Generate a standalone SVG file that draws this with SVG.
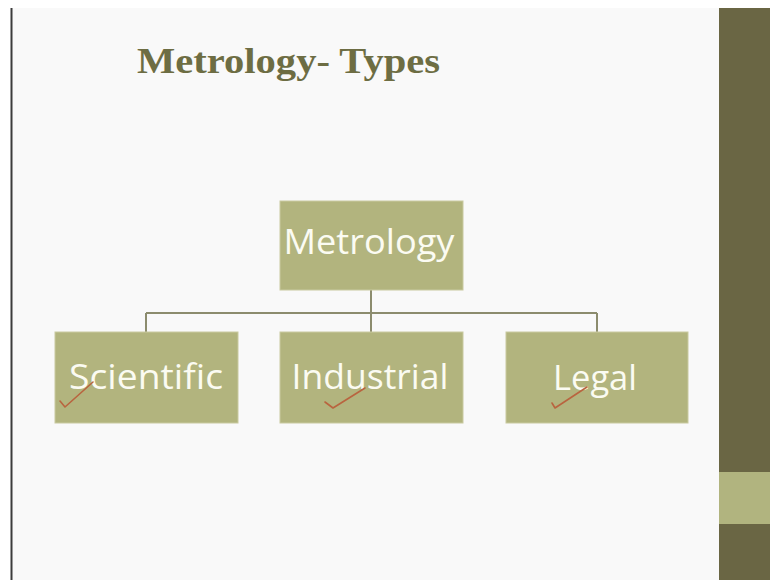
<svg xmlns="http://www.w3.org/2000/svg" width="770" height="580" viewBox="0 0 770 580">
<style>
.box{fill:#b2b47e;stroke:#c9caa0;stroke-width:1}
.lbl{font-family:"Open Sans","Liberation Sans",sans-serif;font-size:35px;fill:#fbfbf2;text-anchor:middle}
.conn{fill:none;stroke:#8c8c6e;stroke-width:2}
.chk{fill:none;stroke:#b9643f;stroke-width:1.6;stroke-linecap:round;stroke-linejoin:round}
</style>
<rect x="0" y="0" width="770" height="580" fill="#ffffff"/>
<rect x="11" y="8" width="759" height="572" fill="#f9f9f9"/>
<line x1="11.5" y1="8" x2="11.5" y2="580" stroke="#3c3c3c" stroke-width="2"/>
<rect x="719" y="8" width="51" height="572" fill="#6a6644"/>
<rect x="719" y="472" width="51" height="52" fill="#b1b47f"/>
<text x="137" y="73" font-family="'Liberation Serif',serif" font-weight="bold" font-size="36" fill="#6d6d43" textLength="303" lengthAdjust="spacingAndGlyphs">Metrology- Types</text>
<g id="connectors">
<path class="conn" d="M371 290 V313 M146 313 H597 M146 313 V332 M371 313 V332 M597 313 V332"/>
</g>
<g id="metrology">
<rect class="box" x="280" y="201" width="183" height="89"/>
<text class="lbl" x="369" y="254" textLength="171" lengthAdjust="spacingAndGlyphs">Metrology</text>
</g>
<g id="scientific">
<rect class="box" x="55" y="332" width="183" height="91"/>
<text class="lbl" x="146" y="389" textLength="154" lengthAdjust="spacingAndGlyphs">Scientific</text>
<path class="chk" d="M60 401 L65 407 L93 382"/>
</g>
<g id="industrial">
<rect class="box" x="280" y="332" width="183" height="91"/>
<text class="lbl" x="370" y="389" textLength="157" lengthAdjust="spacingAndGlyphs">Industrial</text>
<path class="chk" d="M325 402 L333 408 L365 388"/>
</g>
<g id="legal">
<rect class="box" x="506" y="332" width="182" height="91"/>
<text class="lbl" x="595" y="390" textLength="84" lengthAdjust="spacingAndGlyphs">Legal</text>
<path class="chk" d="M552 403 L555 408 L587 387"/>
</g>
</svg>
